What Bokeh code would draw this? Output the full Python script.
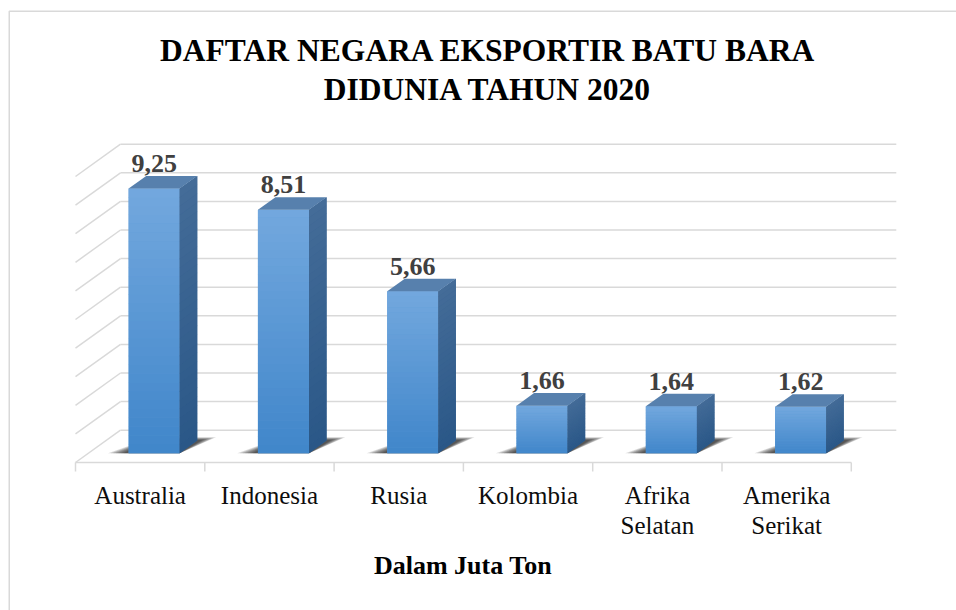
import numpy as np
from bokeh.plotting import figure
from bokeh.models import Range1d
from bokeh.core.properties import value
from bokeh.embed import file_html
from bokeh.resources import INLINE

# ---------------- data ----------------
categories = ["Australia", "Indonesia", "Rusia", "Kolombia", "Afrika Selatan", "Amerika Serikat"]
exports = [9.25, 8.51, 5.66, 1.66, 1.64, 1.62]
value_labels = ["9,25", "8,51", "5,66", "1,66", "1,64", "1,62"]
y_ticks = list(range(0, 11))
title_lines = ["DAFTAR NEGARA EKSPORTIR BATU BARA", "DIDUNIA TAHUN 2020"]
axis_title = "Dalam Juta Ton"

# ---------------- layout calibration (page pixels) ----------------
W, H = 956, 610
OX, OY = 0, 0
PX0, CW = 75.0, 129.3      # page x of first category boundary, px per category
PY0, VH = 462.0, 28.6      # page y of floor front edge, px per value unit
DXP, DYP = 45.0, 32.3      # depth offset of the 3D box (px)
dxc = DXP / CW
dyv = DYP / VH
D_F, D_B = 0.29, 0.68      # bar depth front/back (fraction of floor depth)
C_L, C_R = 0.31, 0.705     # bar left/right inside category
MID = 0.335                # text centre above baseline, in em


def P(c, v, d=0.0):
    return c + d * dxc, v + d * dyv


def page(px, py):
    return (px - PX0) / CW, (PY0 - py) / VH


x0, y1 = page(OX, OY)
x1, y0 = page(OX + W, OY + H)

p = figure(width=W, height=H, x_range=Range1d(x0, x1), y_range=Range1d(y0, y1),
           x_axis_type=None, y_axis_type=None, toolbar_location=None,
           output_backend="svg", min_border=0, outline_line_color=None)
p.background_fill_color = "white"
p.border_fill_color = "white"

GRID = "#d9d9d9"
n = len(categories)

# chart border
bl, _ = page(8.75, 0)
_, bt = page(0, 10.75)
p.line([bl, bl, x1 + 1], [y0 - 1, bt, bt], line_color=GRID, line_width=1.5)

# back wall + left wall gridlines
xs, ys = [], []
for v in y_ticks:
    a = P(0, v, 1); b = P(n, v, 1)
    xs.append([a[0], b[0]]); ys.append([a[1], b[1]])
    a2 = P(0, v, 0)
    xs.append([a2[0], a[0]]); ys.append([a2[1], a[1]])
p.multi_line(xs, ys, line_color=GRID, line_width=1.5)

# floor front edge (category axis) and tick marks
a = P(0, 0, 0); b = P(n, 0, 0)
p.line([a[0], b[0]], [a[1], b[1]], line_color=GRID, line_width=1.5)
tick_len = 9.0 / VH
p.multi_line([[i, i] for i in range(n + 1)], [[0, -tick_len] for i in range(n + 1)],
             line_color=GRID, line_width=1.5)

# soft shadows on the floor
sh_x, sh_y = [], []
layers = 7
for i in range(n):
    for k in range(layers):
        e = (layers - 1 - k) / (layers - 1)   # 1 = outermost, 0 = innermost
        fl = P(i + C_L - 0.04 - 0.12 * e, 0, D_F)
        fr = P(i + C_R, 0, D_F)
        br = P(i + C_R + 0.03 + 0.08 * e, 0, 0.70 + 0.08 * e)
        bl2 = P(i + C_L + 0.02, 0, 0.70 + 0.08 * e)
        sh_x.append([fl[0], fr[0], br[0], bl2[0]])
        sh_y.append([fl[1], fr[1], br[1], bl2[1]])
p.patches(sh_x, sh_y, fill_color="black", fill_alpha=0.14, line_color=None)


def lerp(c1, c2, t):
    return "#%02x%02x%02x" % tuple(int(round(c1[j] + (c2[j] - c1[j]) * t)) for j in range(3))


FRONT_TOP, FRONT_BOT = (115, 168, 222), (64, 134, 202)
SIDE_TOP, SIDE_BOT = (68, 108, 152), (42, 87, 135)
TOP_COL = "#5780ad"
N_STRIPES = 30

fx, fy, fc = [], [], []
sx, sy, sc = [], [], []
tx, ty = [], []
for i, val in enumerate(exports):
    cl, cr = i + C_L, i + C_R
    pts = [P(cl, 0, D_F), P(cr, 0, D_F), P(cr, val, D_F), P(cl, val, D_F)]
    fx.append([q[0] for q in pts]); fy.append([q[1] for q in pts]); fc.append(lerp(FRONT_TOP, FRONT_BOT, 0.5))
    pts = [P(cr, 0, D_F), P(cr, 0, D_B), P(cr, val, D_B), P(cr, val, D_F)]
    sx.append([q[0] for q in pts]); sy.append([q[1] for q in pts]); sc.append(lerp(SIDE_TOP, SIDE_BOT, 0.5))
    for k in range(N_STRIPES):
        v0 = val * k / N_STRIPES
        v1 = min(val, val * (k + 1) / N_STRIPES + 0.01)
        t = 1 - (k + 0.5) / N_STRIPES
        pts = [P(cl, v0, D_F), P(cr, v0, D_F), P(cr, v1, D_F), P(cl, v1, D_F)]
        fx.append([q[0] for q in pts]); fy.append([q[1] for q in pts]); fc.append(lerp(FRONT_TOP, FRONT_BOT, t))
        pts = [P(cr, v0, D_F), P(cr, v0, D_B), P(cr, v1, D_B), P(cr, v1, D_F)]
        sx.append([q[0] for q in pts]); sy.append([q[1] for q in pts]); sc.append(lerp(SIDE_TOP, SIDE_BOT, t))
    pts = [P(cl, val, D_F), P(cr, val, D_F), P(cr, val, D_B), P(cl, val, D_B)]
    tx.append([q[0] for q in pts]); ty.append([q[1] for q in pts])

p.patches(fx, fy, fill_color=fc, line_color=None)
p.patches(sx, sy, fill_color=sc, line_color=None)
p.patches(tx, ty, fill_color=TOP_COL, line_color=None)

SERIF = value("Liberation Serif")

# value labels (baseline 16.5 px above the bar's front top edge)
lab_x = [P(i + (C_L + C_R) / 2, 0, D_F)[0] for i in range(n)]
lab_y = [val + D_F * dyv + (16.5 + MID * 26) / VH for val in exports]
p.text(lab_x, lab_y, text=value_labels, text_font=SERIF, text_font_style="bold",
       text_font_size="26px", text_color="#404040", text_align="center",
       text_baseline="middle")

# category labels (split into two lines)
line1 = [c.split(" ")[0] for c in categories]
line2 = [c.split(" ")[1] if " " in c else "" for c in categories]
_, ly1 = page(0, 503 - MID * 25)
_, ly2 = page(0, 533 - MID * 25)
cx = [i + 0.5 for i in range(n)]
p.text(cx, [ly1] * n, text=line1, text_font=SERIF, text_font_size="25px",
       text_color="#0d0d0d", text_align="center", text_baseline="middle")
p.text(cx, [ly2] * n, text=line2, text_font=SERIF, text_font_size="25px",
       text_color="#0d0d0d", text_align="center", text_baseline="middle")

# title
tcx, _ = page(487.5, 0)
_, t1 = page(0, 61 - MID * 31.5)
_, t2 = page(0, 99.5 - MID * 31.5)
p.text([tcx, tcx], [t1, t2], text=title_lines, text_font=SERIF, text_font_style="bold",
       text_font_size="31.5px", text_color="black", text_align="center",
       text_baseline="middle")

# axis title
acx, _ = page(462.5, 0)
_, ay = page(0, 573.5 - MID * 26)
p.text([acx], [ay], text=[axis_title], text_font=SERIF, text_font_style="bold",
       text_font_size="26px", text_color="black", text_align="center",
       text_baseline="middle")

open("out.html", "w").write(file_html(p, INLINE))
